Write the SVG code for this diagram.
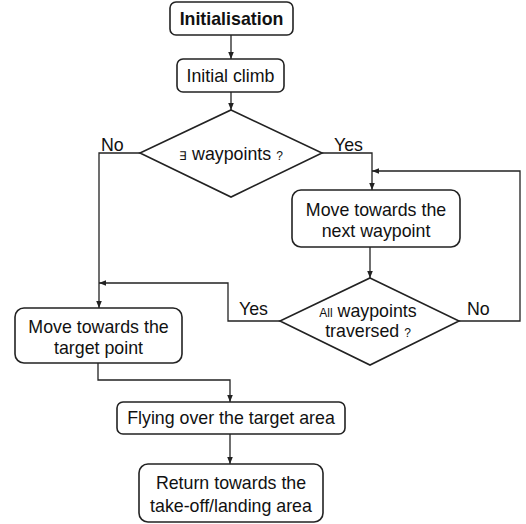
<svg xmlns="http://www.w3.org/2000/svg" width="526" height="524" viewBox="0 0 526 524">
<defs>
<marker id="arr" viewBox="0 0 10 10" refX="10" refY="5" markerWidth="7" markerHeight="7" markerUnits="userSpaceOnUse" orient="auto">
<path d="M0,1 L10,5 L0,9 z" fill="#222"/>
</marker>
</defs>
<style>
.box{fill:#fff;stroke:#222;stroke-width:1.6}
.t{font-family:"Liberation Sans",Arial,sans-serif;font-size:17.8px;fill:#111;text-anchor:middle}
.b{font-weight:bold}
.s{font-size:12px}
.lbl{font-family:"Liberation Sans",Arial,sans-serif;font-size:17.8px;fill:#111}
.c{fill:none;stroke:#222;stroke-width:1.3}
</style>
<rect width="526" height="524" fill="#fff"/>
<g id="connectors">
<path class="c" d="M231,35 V59" marker-end="url(#arr)"/>
<path class="c" d="M231,92 V110" marker-end="url(#arr)"/>
<path class="c" d="M140,153 H99 V308" marker-end="url(#arr)"/>
<path class="c" d="M322,153 H372 V190" marker-end="url(#arr)"/>
<path class="c" d="M370,247 V278" marker-end="url(#arr)"/>
<path class="c" d="M280,321 H228 V283 H99" marker-end="url(#arr)"/>
<path class="c" d="M459,321 H520 V171 H372" marker-end="url(#arr)"/>
<path class="c" d="M98,363 V380 H230 V402" marker-end="url(#arr)"/>
<path class="c" d="M230,434 V464" marker-end="url(#arr)"/>
<text class="lbl" x="101" y="151">No</text>
<text class="lbl" x="334" y="151">Yes</text>
<text class="lbl" x="239" y="315">Yes</text>
<text class="lbl" x="467" y="315">No</text>
</g>
<g id="init">
<rect class="box" x="170" y="2" width="123" height="33" rx="6"/>
<text class="t b" x="231.5" y="25">Initialisation</text>
</g>
<g id="climb">
<rect class="box" x="177" y="59" width="107" height="33" rx="6"/>
<text class="t" x="230.5" y="82">Initial climb</text>
</g>
<g id="dec1">
<polygon class="box" points="231,110 322,153 231,197 140,153"/>
<text class="t" x="231" y="160"><tspan class="s">∃</tspan> waypoints <tspan class="s">?</tspan></text>
</g>
<g id="next">
<rect class="box" x="292" y="190" width="168" height="57" rx="9"/>
<text class="t" x="376" y="216">Move towards the</text>
<text class="t" x="376" y="237">next waypoint</text>
</g>
<g id="dec2">
<polygon class="box" points="370,278 459,321 370,365 280,321"/>
<text class="t" x="368" y="317"><tspan class="s">All</tspan> waypoints</text>
<text class="t" x="368" y="337">traversed <tspan class="s">?</tspan></text>
</g>
<g id="target">
<rect class="box" x="15" y="308" width="167" height="55" rx="9"/>
<text class="t" x="98.5" y="333">Move towards the</text>
<text class="t" x="98.5" y="354">target point</text>
</g>
<g id="fly">
<rect class="box" x="117" y="402" width="228" height="32" rx="6"/>
<text class="t" x="231" y="424">Flying over the target area</text>
</g>
<g id="return">
<rect class="box" x="139" y="464" width="184" height="58" rx="9"/>
<text class="t" x="231" y="489">Return towards the</text>
<text class="t" x="231" y="512">take-off/landing area</text>
</g>
</svg>
